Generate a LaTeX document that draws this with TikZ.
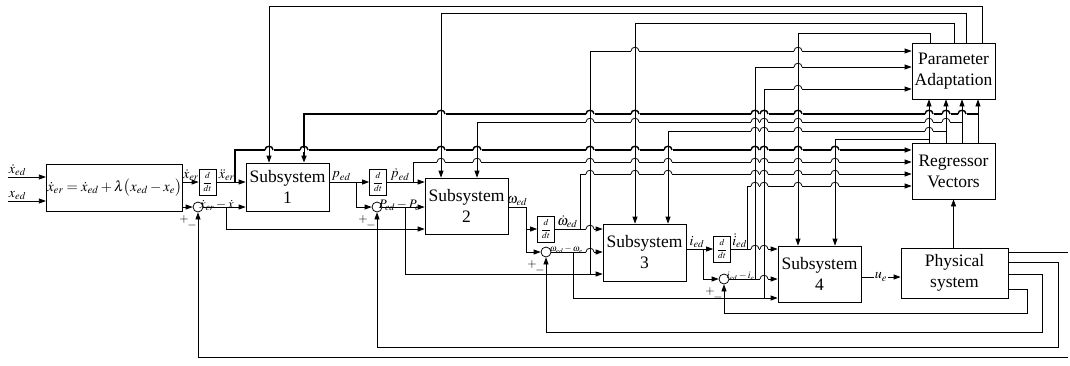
\documentclass[tikz,border=0pt]{standalone}
\usepackage{mathptmx}
\usepackage[no-math]{fontspec}
\setmainfont{Liberation Serif}
\newfontfamily\blkfont{Liberation Serif}
\usetikzlibrary{arrows.meta}

\tikzset{
  blk/.style={draw, minimum width=83pt, align=center, inner sep=1pt, font=\blkfont\fontsize{17.5}{21}\selectfont},
  ddt/.style={draw, minimum width=17pt, minimum height=26pt, inner sep=0pt, font=\fontsize{9}{9}\selectfont},
  sumc/.style={draw, circle, minimum size=10pt, inner sep=0pt},
  lbl/.style={inner sep=1pt, font=\fontsize{14}{14}\selectfont},
  errl/.style={inner sep=0pt, font=\fontsize{11}{11}\selectfont},
  sgn/.style={inner sep=0pt, font=\fontsize{12}{12}\selectfont},
  bus/.style={line width=1.4pt},
}
\newcommand{\ddtfrac}{$\displaystyle\frac{d}{dt}$}

\begin{document}
\begin{tikzpicture}[x=1pt,y=-1pt,line width=0.75pt,>={Triangle[length=7pt,width=5pt]}]
 \useasboundingbox (0,0) rectangle (1070,365);

 % blocks
 \node[blk, minimum width=125pt, minimum height=47pt, font=\fontsize{14.5}{14}\selectfont] (ref) at (114.5,187.5)
   {$\dot x_{er}=\dot x_{ed}+\lambda\bigl(x_{ed}-x_e\bigr)$};
 \node[ddt] (d1) at (207.5,182) {\ddtfrac};
 \node[sumc] (s1) at (198,207) {};
 \node[blk, minimum height=48pt] (sub1) at (287.5,187) {Subsystem\\1};
 \node[ddt] (d2) at (378,182) {\ddtfrac};
 \node[sumc] (s2) at (377,207) {};
 \node[blk, minimum height=56pt] (sub2) at (466.5,206) {Subsystem\\2};
 \node[ddt] (d3) at (546,229) {\ddtfrac};
 \node[sumc] (s3) at (546,252) {};
 \node[blk, minimum height=57pt] (sub3) at (644.5,252.5) {Subsystem\\3};
 \node[ddt] (d4) at (722,249) {\ddtfrac};
 \node[sumc] (s4) at (724,279) {};
 \node[blk, minimum height=56pt] (sub4) at (819.5,274) {Subsystem\\4};
 \node[blk, minimum width=107pt, minimum height=50pt] (phys) at (954.5,273) {Physical\\system};
 \node[blk, minimum height=56pt] (reg) at (953.5,171) {Regressor\\Vectors};
 \node[blk, minimum height=56pt] (par) at (953.5,71) {Parameter\\Adaptation};

 % signs at the summers
 \foreach \s in {s1,s2,s3,s4} {
   \node[sgn] at ([shift={(-14,12)}]\s) {$+$};
   \node[sgn] at ([shift={(-6,18)}]\s) {$-$};
 }

 % reference inputs
 \coordinate (in1) at (8,177);
 \coordinate (in2) at (8,201);
 \draw[->] (in1) -- node[lbl,above,pos=0.25] {$\dot x_{ed}$} (in1 -| ref.west);
 \draw[->] (in2) -- node[lbl,above,pos=0.25] {$x_{ed}$} (in2 -| ref.west);
 \draw[->] (ref.east |- d1) -- node[lbl,above] {$\dot x_{er}$} (d1.west);
 \draw[->] (ref.east |- s1) -- (s1.west);

 % stage 1
 \draw[->] (d1.east) -- node[lbl,above,pos=0.35] {$\ddot x_{er}$} (d1.east -| sub1.west);
 \draw[->] (s1.east) -- (s1.east -| sub1.west);
 \node[errl, font=\fontsize{13}{13}\selectfont, anchor=south west] at ([xshift=-4pt,yshift=-4pt]s1.east) {$\dot x_{er}-\dot x$};
 \coordinate (a1) at (235,182);
 \draw[->,bus] (a1) |- (reg.west |- 0,150);
 \coordinate (e1) at (226,207);
 \draw[->] (e1) |- (sub2.west |- 0,229);

 % stage 2
 \draw[->] (sub1.east |- d2) -- node[lbl,above,pos=0.3] {$p_{ed}$} (d2.west);
 \coordinate (p1) at (356,182);
 \draw[->] (p1) |- (s2.west);
 \draw[->] (d2.east) -- node[lbl,above,pos=0.35] {$\dot p_{ed}$} (d2.east -| sub2.west);
 \coordinate (a2) at (413,182);
 \draw[->] (a2) |- (reg.west |- 0,162);
 \draw[->] (s2.east) -- (s2.east -| sub2.west);
 \node[errl, font=\fontsize{13}{13}\selectfont, anchor=south west] at ([xshift=-4pt,yshift=-4pt]s2.east) {$P_{ed}-P_e$};
 \coordinate (e2) at (405,207);
 \draw[->] (e2) |- (sub3.west |- 0,274);
 \coordinate (e2u) at (590,274);
 \draw[->] (e2u) |- (par.west |- 0,51);

 % stage 3
 \coordinate (w1) at (526,207);
 \draw[->] (sub2.east |- w1) -- node[lbl,above] {$\omega_{ed}$} (w1) |- (d3.west);
 \draw[->] (w1 |- d3) |- (s3.west);
 \draw[->] (d3.east) -- (d3.east -| sub3.west);
 \node[lbl, anchor=south west] at ([xshift=1pt]d3.east) {$\dot\omega_{ed}$};
 \coordinate (a3) at (580,229);
 \draw[->] (a3) |- (reg.west |- 0,174);
 \draw[->] (s3.east) -- (s3.east -| sub3.west);
 \node[errl, font=\fontsize{9}{9}\selectfont, anchor=south west] at ([xshift=-2pt,yshift=-2pt]s3.east) {$\omega_{ed}-\omega_e$};
 \coordinate (e3) at (573,252);
 \draw[->] (e3) |- (sub4.west |- 0,298);
 \coordinate (e3u) at (764,298);
 \draw[->] (e3u) |- (par.west |- 0,89);

 % stage 4
 \draw[->] (sub3.east |- d4) -- node[lbl,above,pos=0.4] {$i_{ed}$} (d4.west);
 \coordinate (i1) at (703,249);
 \draw[->] (i1) |- (s4.west);
 \draw[->] (d4.east) -- (d4.east -| sub4.west);
 \node[lbl, anchor=south west] at ([xshift=0pt]d4.east) {$\dot i_{ed}$};
 \coordinate (a4) at (747,249);
 \draw[->] (a4) |- (reg.west |- 0,186);
 \draw[->] (s4.east) -- (s4.east -| sub4.west);
 \node[errl, font=\fontsize{10}{10}\selectfont, anchor=south west] at ([xshift=-3pt,yshift=-2pt]s4.east) {$i_{ed}-i_e$};
 \coordinate (e4) at (755,279);
 \draw[->] (e4) |- (par.west |- 0,67);
 \draw[->] (sub4.east |- 0,277) -- node[lbl,fill=white,inner sep=1pt] {$u_e$} (phys.west |- 0,277);
 \draw[->] (reg.south |- phys.north) -- (reg.south);

 % feedback from the plant
 \coordinate (f1) at (1068,357);
 \coordinate (f2) at (1058,347);
 \coordinate (f3) at (1042,332);
 \coordinate (f4) at (1027,313);
 \draw (phys.east |- 0,252) -- (1068,252);
 \draw[->] (f1) -| (s1.south);
 \draw[->] (phys.east |- 0,262) -| (f2) -| (s2.south);
 \draw[->] (phys.east |- 0,274) -| (f3) -| (s3.south);
 \draw[->] (phys.east |- 0,289) -| (f4) -| (s4.south);

 % adaptation to subsystems
 \draw[->] (982,0 |- par.north) |- (269,6) -- (269,0 |- sub1.north);
 \draw[->] (966,0 |- par.north) |- (441,13) -- (441,0 |- sub2.north);
 \draw[->] (954,0 |- par.north) |- (635,23) -- (635,0 |- sub3.north);
 \draw[->] (930,0 |- par.north) |- (798,33) -- (798,0 |- sub4.north);

 % regressors to adaptation and subsystems
 \foreach \rx in {929,946,962,978}
   \draw[->] (\rx,0 |- reg.north) -- (\rx,0 |- par.south);
 \draw[->,bus] (978,114) -| (304,0 |- sub1.north);
 \draw[->] (962,122) -| (477,0 |- sub2.north);
 \draw[->] (946,131) -| (668,0 |- sub3.north);
 \draw[->] (929,139) -| (835,0 |- sub4.north);

 % line hops
 \foreach \hx/\hy in {635/51,798/51,798/67,798/89,
     590/122,635/122,755/122,764/122,798/122,929/122,946/122,
     755/131,764/131,798/131,929/131,
     441/162,477/162,590/162,635/162,668/162,755/162,764/162,798/162,835/162,
     590/174,635/174,668/174,755/174,764/174,798/174,835/174,
     755/186,764/186,798/186,835/186,
     590/229,590/252,755/249,764/249,764/279} {
   \fill[white] (\hx-4,\hy-1.3) rectangle (\hx+4,\hy+1.3);
   \draw (\hx-4,\hy) .. controls (\hx-4,\hy-5) and (\hx+4,\hy-5) .. (\hx+4,\hy);
   \draw (\hx,\hy-1.8) -- (\hx,\hy+1.8);
 }
 \foreach \hx/\hy in {441/114,590/114,635/114,755/114,764/114,798/114,929/114,946/114,962/114,
     269/150,304/150,441/150,477/150,590/150,635/150,668/150,755/150,764/150,798/150,835/150} {
   \fill[white] (\hx-4.5,\hy-1.8) rectangle (\hx+4.5,\hy+1.8);
   \draw[bus] (\hx-4,\hy) .. controls (\hx-4,\hy-5) and (\hx+4,\hy-5) .. (\hx+4,\hy);
   \draw (\hx,\hy-2.2) -- (\hx,\hy+2.2);
 }
\end{tikzpicture}
\end{document}
